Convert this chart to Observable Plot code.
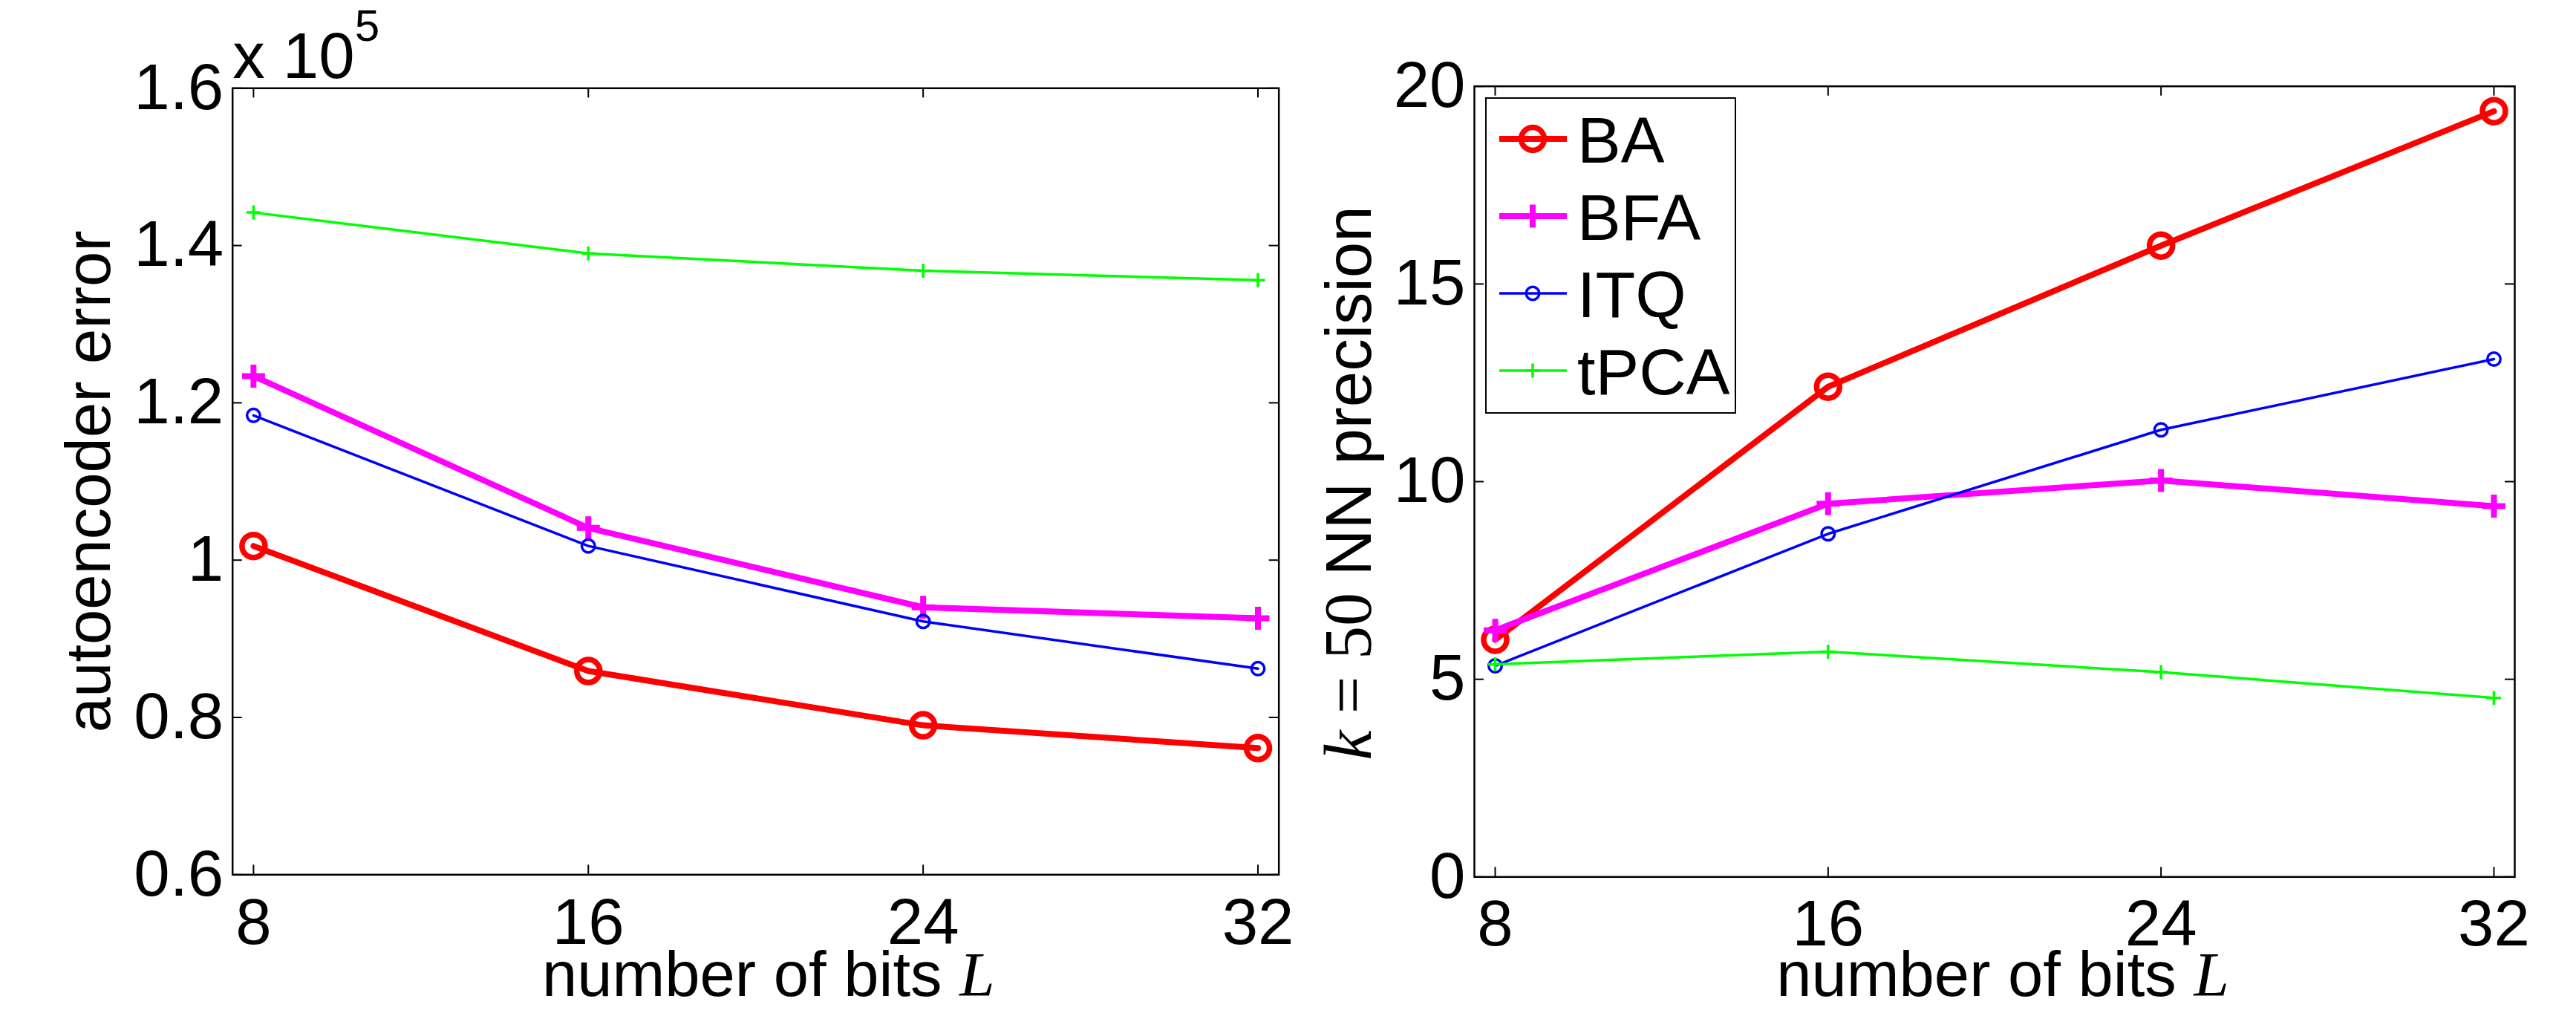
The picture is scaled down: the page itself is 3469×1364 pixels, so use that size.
<!DOCTYPE html>
<html><head><meta charset="utf-8">
<script src="https://cdn.jsdelivr.net/npm/d3@7"></script>
<script src="https://cdn.jsdelivr.net/npm/@observablehq/plot@0.6"></script>
<style>
html,body{margin:0;padding:0;background:#fff;}
#wrap{position:relative;width:3469px;height:1364px;overflow:hidden;background:#fff;font-family:"Liberation Sans",Arial,sans-serif;}
#left{position:absolute;left:0;top:0;}
#right{position:absolute;left:1760px;top:0;}
#legend{position:absolute;left:2000px;top:131px;}
svg{overflow:visible;}
</style></head><body>
<div id="wrap"><div id="left"></div><div id="right"></div><div id="legend"></div></div>
<script>
// ---- data ----
const bits = [8, 16, 24, 32];
const series = ["BA", "BFA", "ITQ", "tPCA"];
// autoencoder error (x 10^5)
const errBA   = [1.018, 0.859, 0.790, 0.761];
const errBFA  = [1.234, 1.041, 0.940, 0.926];
const errITQ  = [1.184, 1.018, 0.922, 0.862];
const errTPCA = [1.442, 1.390, 1.368, 1.356];
// k = 50 NN precision
const precBA   = [6.00, 12.40, 15.97, 19.37];
const precBFA  = [6.24, 9.44, 10.03, 9.38];
const precITQ  = [5.34, 8.68, 11.31, 13.10];
const precTPCA = [5.38, 5.70, 5.18, 4.53];
// ticks
const xTicks = [8, 16, 24, 32];
const yTicksErr = [0.6, 0.8, 1, 1.2, 1.4, 1.6];
const yTicksPrec = [0, 5, 10, 15, 20];

// ---- styles ----
const colors = ["#ff0000", "#ff00ff", "#0000ff", "#00ff00"];
const lineWidths = [8, 8, 3.5, 3.5];
const markerKinds = ["circle", "plus", "circle", "plus"];
const markerR = [15.5, 15.5, 8.75, 9.5];
const markerSW = [7.5, 8, 3.5, 3.5];
const plusSymbol = {draw(ctx, size) {const r = Math.sqrt(size / Math.PI); ctx.moveTo(-r, 0); ctx.lineTo(r, 0); ctx.moveTo(0, -r); ctx.lineTo(0, r);}};
const FONT = "Liberation Sans, Arial, Helvetica, sans-serif";
const SERIF = "Liberation Serif, Times New Roman, serif";

function rows(valsArr) {
  return series.flatMap((s, i) => bits.map((b, j) => ({series: s, bits: b, value: valsArr[i][j]})));
}

function panel(o) {
  const innerW = o.width - o.ml - o.mr, innerH = o.height - o.mt - o.mb;
  const marks = [
    Plot.tickX(xTicks, {x: d => d, stroke: "#000", strokeWidth: 2, insetTop: innerH - 13}),
    Plot.tickX(xTicks, {x: d => d, stroke: "#000", strokeWidth: 2, insetBottom: innerH - 13}),
    Plot.tickY(o.yTicks, {y: d => d, stroke: "#000", strokeWidth: 2, insetRight: innerW - 13}),
    Plot.tickY(o.yTicks, {y: d => d, stroke: "#000", strokeWidth: 2, insetLeft: innerW - 13}),
    Plot.axisX({ticks: xTicks, tickSize: 0, tickPadding: o.xPad, fontSize: 87, tickFormat: d => String(d), label: null}),
    Plot.axisY({ticks: o.yTicks, tickSize: 0, tickPadding: 12, fontSize: 87, tickFormat: d => String(d), label: null}),
  ];
  series.forEach((s, i) => {
    const d = o.data.filter(r => r.series === s);
    marks.push(Plot.line(d, {x: "bits", y: "value", stroke: colors[i], strokeWidth: lineWidths[i], strokeLinejoin: "miter"}));
    marks.push(Plot.dot(d, {x: "bits", y: "value", r: markerR[i], symbol: markerKinds[i] === "plus" ? plusSymbol : "circle",
      stroke: colors[i], strokeWidth: markerSW[i], fill: "none"}));
  });
  marks.push(Plot.frame({stroke: "#000", strokeWidth: 2.5}));
  marks.push(Plot.text(["number of bits L"], {text: d => d, frameAnchor: "bottom", textAnchor: "middle", lineAnchor: "bottom",
    dx: o.xLabDx, dy: o.xLabDy, fontSize: 85}));
  marks.push(Plot.text([o.yLabel], {text: d => d, frameAnchor: "left", rotate: -90, textAnchor: "middle", lineAnchor: "bottom",
    dx: o.yLabDx, dy: o.yLabDy || 0, fontSize: o.yLabSize || 85}));
  if (o.extra) marks.push(...o.extra);
  const svg = Plot.plot({
    width: o.width, height: o.height,
    marginLeft: o.ml, marginRight: o.mr, marginTop: o.mt, marginBottom: o.mb,
    x: {domain: [7.5, 32.5]},
    y: {domain: o.yDomain},
    style: {fontFamily: FONT, fontSize: "87px", color: "#000", background: "transparent", overflow: "visible"},
    marks
  });
  return svg;
}

function richify(svg, content, parts) {
  d3.select(svg).selectAll("text").filter(function() {return this.textContent === content;}).each(function() {
    const t = d3.select(this);
    t.text(null);
    parts.forEach(p => {
      const ts = t.append("tspan").text(p.text);
      if (p.family) ts.attr("font-family", p.family);
      if (p.style) ts.attr("font-style", p.style);
      if (p.size) ts.attr("font-size", p.size);
      if (p.dy != null) ts.attr("dy", p.dy);
    });
  });
}

const left = panel({
  width: 1760, height: 1364, ml: 312.7, mr: 38.3, mt: 118.3, mb: 186.7,
  yDomain: [0.6, 1.6], yTicks: yTicksErr, xPad: 31,
  data: rows([errBA, errBFA, errITQ, errTPCA]),
  xLabDx: 17, xLabDy: 163, yLabel: "autoencoder error", yLabDx: -165,
  extra: [Plot.text(["x 105"], {text: d => d, frameAnchor: "top-left", textAnchor: "start", lineAnchor: "bottom", dy: -14, fontSize: 87})]
});
richify(left, "number of bits L", [{text: "number of bits "}, {text: "L", family: SERIF, style: "italic"}]);
richify(left, "x 105", [{text: "x 10"}, {text: "5", size: 60, dy: -50}]);
document.getElementById("left").appendChild(left);

const right = panel({
  width: 1709, height: 1364, ml: 225, mr: 83, mt: 115.7, mb: 183.7,
  yDomain: [0, 20], yTicks: yTicksPrec, xPad: 30,
  data: rows([precBA, precBFA, precITQ, precTPCA]),
  xLabDx: 11, xLabDy: 160, yLabel: "k = 50 NN precision", yLabDx: -140, yLabDy: 2, yLabSize: 87
});
richify(right, "number of bits L", [{text: "number of bits "}, {text: "L", family: SERIF, style: "italic"}]);
richify(right, "k = 50 NN precision", [{text: "k", family: SERIF, style: "italic", size: 90}, {text: " = 50 ", family: SERIF, size: 90}, {text: "NN precision"}]);
document.getElementById("right").appendChild(right);

// ---- legend (inside right panel) ----
const lg = d3.select("#legend").append("svg").attr("width", 340).attr("height", 428)
  .style("font-family", FONT);
lg.append("rect").attr("x", 1).attr("y", 1).attr("width", 336).attr("height", 424)
  .attr("fill", "#fff").attr("stroke", "#000").attr("stroke-width", 2);
series.forEach((s, i) => {
  const cy = 56 + i * 104;
  const g = lg.append("g").attr("transform", `translate(0,${cy})`);
  g.append("line").attr("x1", 19).attr("x2", 110).attr("y1", 0).attr("y2", 0)
    .attr("stroke", colors[i]).attr("stroke-width", lineWidths[i]);
  if (markerKinds[i] === "circle") {
    g.append("circle").attr("cx", 64).attr("cy", 0).attr("r", markerR[i]).attr("fill", "none")
      .attr("stroke", colors[i]).attr("stroke-width", markerSW[i]);
  } else {
    const r = markerR[i];
    g.append("path").attr("d", `M${64 - r},0H${64 + r}M64,${-r}V${r}`)
      .attr("stroke", colors[i]).attr("stroke-width", markerSW[i]).attr("fill", "none");
  }
  g.append("text").attr("x", 124).attr("y", 0).attr("dy", "0.358em").attr("font-size", 88).attr("fill", "#000").text(s);
});
</script>
</body></html>
